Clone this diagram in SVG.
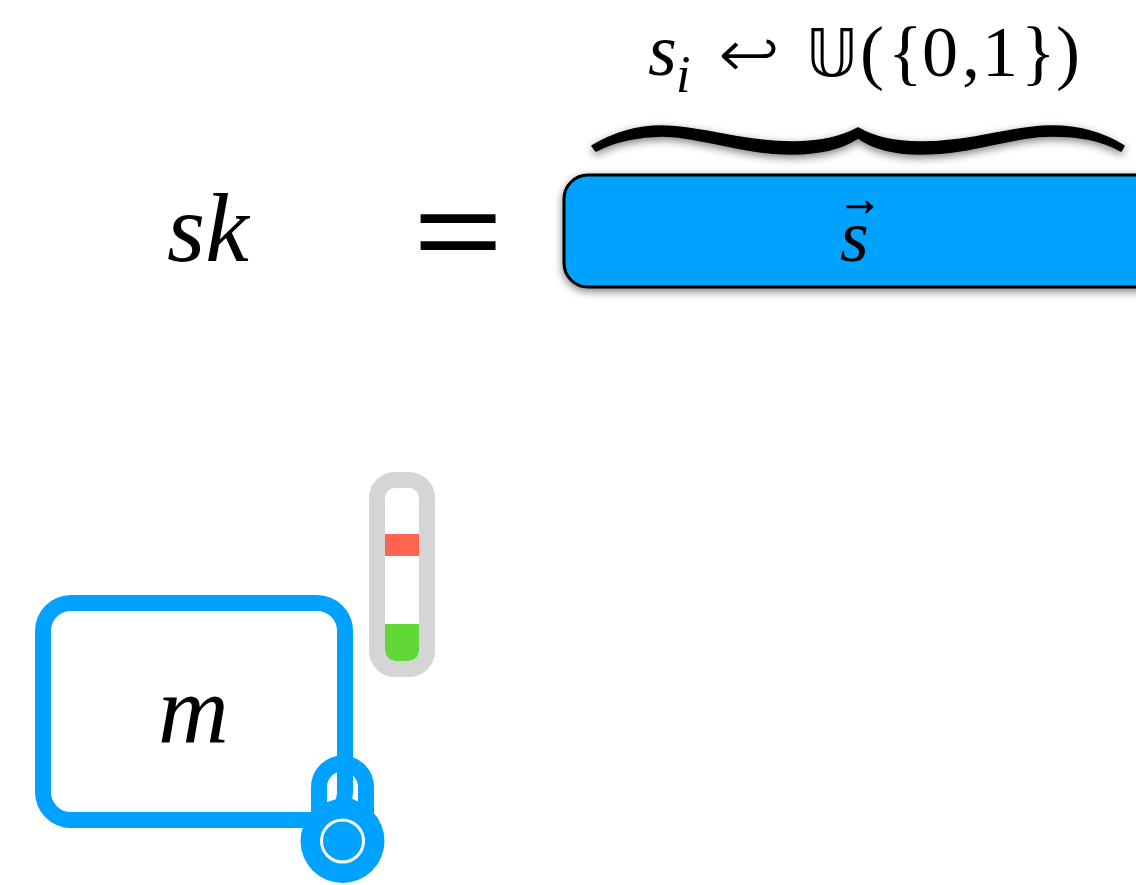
<svg xmlns="http://www.w3.org/2000/svg" width="1136" height="885" viewBox="0 0 1136 885">
<style>
text{font-family:"Liberation Serif","Times New Roman",serif;fill:#000}
.i{font-style:italic}
.d{font-family:"DejaVu Sans",sans-serif}
.blue{stroke:#00A2FF;fill:none;stroke-width:16}
</style>
<defs>
<filter id="sh" x="-5%" y="-30%" width="110%" height="170%"><feDropShadow dx="0" dy="3" stdDeviation="4" flood-color="#000" flood-opacity="0.5"/></filter>
</defs>
<rect width="1136" height="885" fill="#fff"/>
<g id="sk"><text class="i" x="167" y="261" font-size="98">sk</text></g>
<g id="equals"><text x="414" y="277" font-size="133" textLength="88" lengthAdjust="spacingAndGlyphs" stroke="#000" stroke-width="2">=</text></g>
<g id="secret-vector">
<rect x="564" y="175" width="600" height="112" rx="24" fill="#00A2FF" stroke="#000" stroke-width="3" filter="url(#sh)"/>
<text class="i" x="840" y="261" font-size="74">s</text>
<text x="838" y="215" font-size="50" textLength="44" lengthAdjust="spacingAndGlyphs" stroke="#000" stroke-width="0.800">→</text>
</g>
<g id="brace"><path filter="url(#sh)" stroke="#000" stroke-width="1.500" stroke-linejoin="round" d="M592 146C615 132 640 126 662 126C700 126 740 142 793 142C815 142 840 138 858 128C875 138 895 142 920 142C975 142 1010 126 1052 126C1080 126 1105 134 1124 146L1121 151C1100 140 1080 136 1052 136C1010 136 975 154 920 154C895 154 875 150 858 138C840 150 815 154 793 154C740 154 700 136 662 136C640 136 615 141 596 151Z"/></g>
<g id="distribution">
<text class="i" x="648" y="75" font-size="74">s</text>
<text class="i" x="676" y="92" font-size="52">i</text>
<text class="d" x="717" y="78" font-size="70" textLength="64" lengthAdjust="spacingAndGlyphs" stroke="#fff" stroke-width="2">↩</text>
<text class="d" x="806" y="76" font-size="66" textLength="52" lengthAdjust="spacingAndGlyphs">𝕌</text>
<text y="76" font-size="72"><tspan x="860">(</tspan><tspan x="888">{</tspan><tspan x="922">0</tspan><tspan x="962">,</tspan><tspan x="982">1</tspan><tspan x="1021">}</tspan><tspan x="1056">)</tspan></text>
</g>
<g id="message">
<rect class="blue" x="43" y="603" width="302" height="217" rx="28"/>
<text class="i" x="158" y="742" font-size="98">m</text>
</g>
<g id="noise-tube">
<rect x="385" y="534" width="34" height="22" fill="#FF644E"/>
<path d="M385 624H419V651A10 10 0 0 1 409 661H395A10 10 0 0 1 385 651Z" fill="#61D836"/>
<rect x="377" y="480" width="50" height="189" rx="18" fill="none" stroke="#D5D5D5" stroke-width="16"/>
</g>
<g id="lock">
<path class="blue" d="M319 815V787A23.500 23.500 0 0 1 366 787V815"/>
<path d="M319 806L338 799L353 799L366 806V820H319Z" fill="#00A2FF"/>
<circle cx="342.500" cy="841" r="42" fill="#00A2FF"/>
<circle cx="342.500" cy="841" r="21" fill="#00A2FF" stroke="#fff" stroke-width="3"/>
</g>
<g id="connectors"/>
</svg>
